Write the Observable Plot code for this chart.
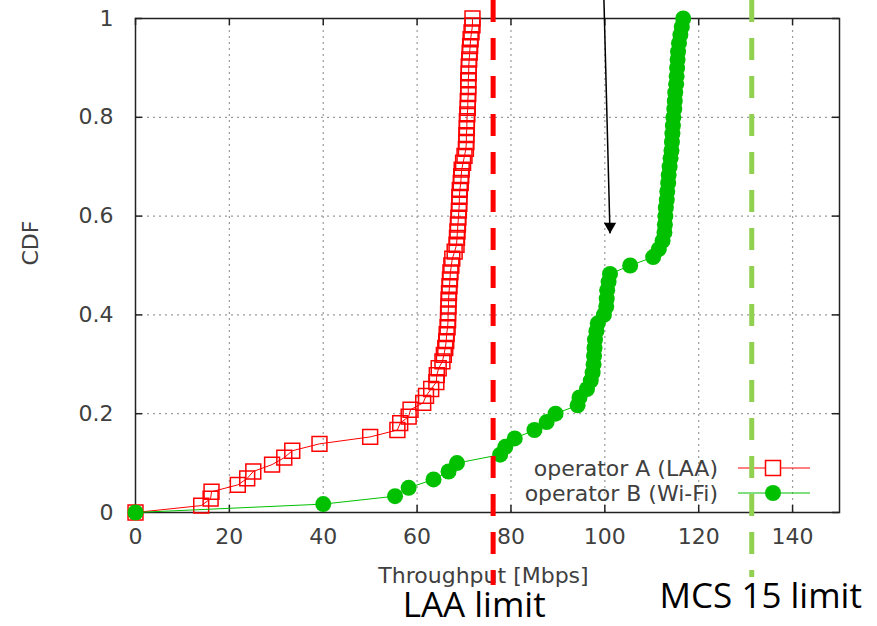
<!DOCTYPE html>
<html>
<head>
<meta charset="utf-8">
<script src="https://cdn.jsdelivr.net/npm/d3@7"></script>
<script src="https://cdn.jsdelivr.net/npm/@observablehq/plot@0.6"></script>
<style>
  html, body { margin: 0; padding: 0; background: #fff; }
  #chart { width: 877px; height: 626px; }
</style>
</head>
<body>
<div id="chart"></div>
<script>
// Throughput CDF samples for operator A (LAA): x in Mbps, CDF value
const laaThroughput = [0, 14.0, 16.0, 16.2, 21.8, 23.8, 25.1, 29.1, 31.7, 33.4, 39.2, 50.0, 55.8, 56.4, 58.2, 58.6,
  61.3, 61.9, 63.0, 64.1, 64.2, 64.6, 65.4, 65.7, 66.0, 66.2, 66.3, 66.5, 66.6, 66.6, 66.7, 66.7, 66.8, 66.9,
  67.0, 67.1, 67.3, 67.5, 68.0, 68.4, 68.5, 68.6, 68.7, 68.8, 68.9, 69.0, 69.0, 69.1, 69.3, 69.4, 69.5, 69.8,
  70.1, 70.4, 70.5, 70.5, 70.6, 70.6, 70.7, 70.8, 70.8, 70.9, 70.9, 70.9, 71.0, 71.0, 71.1, 71.2, 71.3, 71.4,
  71.6, 71.8, 71.8];
const laaCdf = [0, 0.014, 0.028, 0.042, 0.056, 0.069, 0.083, 0.097, 0.111, 0.125, 0.139, 0.153, 0.167, 0.181, 0.194, 0.208,
  0.222, 0.236, 0.250, 0.264, 0.278, 0.292, 0.306, 0.319, 0.333, 0.347, 0.361, 0.375, 0.389, 0.403, 0.417, 0.431, 0.444, 0.458,
  0.472, 0.486, 0.500, 0.514, 0.528, 0.542, 0.556, 0.569, 0.583, 0.597, 0.611, 0.625, 0.639, 0.653, 0.667, 0.681, 0.694, 0.708,
  0.722, 0.736, 0.750, 0.764, 0.778, 0.792, 0.806, 0.819, 0.833, 0.847, 0.861, 0.875, 0.889, 0.903, 0.917, 0.931, 0.944, 0.958,
  0.972, 0.986, 1.0];

// Throughput CDF samples for operator B (Wi-Fi)
const wifiThroughput = [0, 40.0, 55.3, 58.2, 63.5, 66.7, 68.5, 77.7, 78.8, 80.8, 85.0, 87.6, 89.5, 94.2, 94.6,
  96.2, 97.0, 97.4, 97.6, 97.7, 97.8, 97.9, 98.2, 98.5, 99.8, 100.3, 100.4, 100.5, 100.8, 101.1, 105.4,
  110.3, 111.5, 112.3, 112.7, 112.8, 112.9, 113.0, 113.2, 113.3, 113.5, 113.6, 113.8, 114.0, 114.2, 114.3,
  114.4, 114.5, 114.6, 114.8, 114.9, 115.0, 115.2, 115.3, 115.4, 115.5, 115.6, 115.8, 116.1, 116.4, 116.7];
const wifiCdf = [0, 0.017, 0.033, 0.050, 0.067, 0.083, 0.100, 0.117, 0.133, 0.150, 0.167, 0.183, 0.200, 0.217, 0.233,
  0.250, 0.267, 0.283, 0.300, 0.317, 0.333, 0.350, 0.367, 0.383, 0.400, 0.417, 0.433, 0.450, 0.467, 0.483, 0.500,
  0.517, 0.533, 0.550, 0.567, 0.583, 0.600, 0.617, 0.633, 0.650, 0.667, 0.683, 0.700, 0.717, 0.733, 0.750,
  0.767, 0.783, 0.800, 0.817, 0.833, 0.850, 0.867, 0.883, 0.900, 0.917, 0.933, 0.950, 0.967, 0.983, 1.0];

// Rate limits marked with dashed verticals
const limitLabels = ["LAA limit", "MCS 15 limit"];
const limitValues = [76.2, 131.3];

// Pointer annotation (from above the frame down to the Wi-Fi knee)
const pointerFrom = [99.8, 1.04];
const pointerTo = [101.1, 0.565];

const xTicks = [0, 20, 40, 60, 80, 100, 120, 140];
const yTicks = [0, 0.2, 0.4, 0.6, 0.8, 1];
const xGrid = [20, 40, 60, 80, 100, 120, 140];
const yGrid = [0.2, 0.4, 0.6, 0.8];

const seriesNames = ["operator A (LAA)", "operator B (Wi-Fi)"];

const laa = laaThroughput.map((x, i) => ({x, y: laaCdf[i]}));
const wifi = wifiThroughput.map((x, i) => ({x, y: wifiCdf[i]}));
const limits = limitLabels.map((label, i) => ({label, value: limitValues[i]}));

const W = 877, H = 626;
const mL = 135, mR = 38, mT = 18, mB = 114;
const plotW = W - mL - mR, plotH = H - mT - mB;
const RED = "#ff0000", GREEN = "#00c000";
const LAA_LINE = "#ff0000", MCS_LINE = "#92d050";
const TEXT = "#404040";
const FONT = 22;
const tick = 7;

const chart = Plot.plot({
  width: W,
  height: H,
  marginLeft: mL, marginRight: mR, marginTop: mT, marginBottom: mB,
  style: {fontFamily: "DejaVu Sans", fontSize: `${FONT}px`, color: TEXT, background: "#fff"},
  x: {domain: [0, 150], label: null},
  y: {domain: [0, 1], label: null},
  marks: [
    // dotted grid
    Plot.ruleX(xGrid, {x: d => d, stroke: "#9a9a9a", strokeWidth: 1.2, strokeDasharray: "2,4"}),
    Plot.ruleY(yGrid, {y: d => d, stroke: "#9a9a9a", strokeWidth: 1.2, strokeDasharray: "2,4"}),
    // inward ticks on all four sides
    Plot.tickX(xTicks, {x: d => d, insetTop: plotH - tick, stroke: "#222", strokeWidth: 1.5}),
    Plot.tickX(xTicks, {x: d => d, insetBottom: plotH - tick, stroke: "#222", strokeWidth: 1.5}),
    Plot.tickY(yTicks, {y: d => d, insetRight: plotW - tick, stroke: "#222", strokeWidth: 1.5}),
    Plot.tickY(yTicks, {y: d => d, insetLeft: plotW - tick, stroke: "#222", strokeWidth: 1.5}),
    Plot.frame({stroke: "#222", strokeWidth: 1.5}),
    // tick labels
    Plot.axisX(xTicks, {anchor: "bottom", tickSize: 0, tickPadding: 16, label: null, fill: TEXT}),
    Plot.axisY(yTicks, {anchor: "left", tickSize: 0, tickPadding: 22, tickFormat: d => `${d}`, label: null, fill: TEXT}),
    // axis titles
    Plot.text(["Throughput [Mbps]"], {frameAnchor: "bottom", dy: 70, dx: -4, fill: TEXT}),
    Plot.text(["CDF"], {frameAnchor: "left", dx: -105, rotate: -90, fill: TEXT}),
    // operator A (LAA)
    Plot.line(laa, {x: "x", y: "y", stroke: RED, strokeWidth: 1}),
    Plot.dot(laa, {x: "x", y: "y", symbol: "square", r: 8.4, stroke: RED, strokeWidth: 1.5, fill: "none"}),
    // operator B (Wi-Fi)
    Plot.line(wifi, {x: "x", y: "y", stroke: GREEN, strokeWidth: 1}),
    Plot.dot(wifi, {x: "x", y: "y", r: 8, fill: GREEN, stroke: "none"}),
    // rate limits
    Plot.ruleX(limits.filter(d => d.label === "LAA limit"), {x: "value", insetTop: -mT, insetBottom: -73,
      stroke: LAA_LINE, strokeWidth: 5, strokeDasharray: "22,16"}),
    Plot.ruleX(limits.filter(d => d.label !== "LAA limit"), {x: "value", insetTop: -mT, insetBottom: -65,
      stroke: MCS_LINE, strokeWidth: 5, strokeDasharray: "22,16"}),
    Plot.text(limits.filter(d => d.label === "LAA limit"), {x: "value", text: "label", frameAnchor: "bottom",
      dy: 104, dx: -19, fontSize: 35, fontFamily: "Open Sans", fill: "#000"}),
    Plot.text(limits.filter(d => d.label !== "LAA limit"), {x: "value", text: "label", frameAnchor: "bottom",
      dy: 95, dx: 9, fontSize: 35, fontFamily: "Open Sans", fill: "#000"}),
    // pointer arrow
    Plot.link([{x1: pointerFrom[0], y1: pointerFrom[1], x2: pointerTo[0], y2: pointerTo[1]}],
      {x1: "x1", y1: "y1", x2: "x2", y2: "y2", stroke: "#000", strokeWidth: 1.5}),
    Plot.dot([{x: pointerTo[0], y: pointerTo[1]}], {x: "x", y: "y", symbol: "triangle", r: 4.6, rotate: 180,
      dy: -7, fill: "#000", stroke: "none"})
  ]
});

// Key in the lower-right corner of the frame
const svg = d3.select(chart);
const right = W - mR, bottom = H - mB;
const key = svg.append("g").attr("font-family", "DejaVu Sans").attr("font-size", FONT).attr("fill", TEXT);
const rows = [
  {name: seriesNames[0], color: RED, y: bottom - 44, kind: "square"},
  {name: seriesNames[1], color: GREEN, y: bottom - 19, kind: "dot"}
];
rows.forEach(r => {
  key.append("text").attr("x", right - 121).attr("y", r.y).attr("text-anchor", "end")
    .attr("dominant-baseline", "central").text(r.name);
  key.append("line").attr("x1", right - 101).attr("x2", right - 29).attr("y1", r.y).attr("y2", r.y)
    .attr("stroke", r.color).attr("stroke-width", 1);
  if (r.kind === "square") {
    key.append("rect").attr("x", right - 66 - 7.5).attr("y", r.y - 7.5).attr("width", 15).attr("height", 15)
      .attr("fill", "#fff").attr("stroke", r.color).attr("stroke-width", 1.5);
  } else {
    key.append("circle").attr("cx", right - 66).attr("cy", r.y).attr("r", 8).attr("fill", r.color);
  }
});
// keep the MCS 15 limit line above the key, as it crosses it
const mcsRule = svg.selectAll("g[aria-label='rule']").filter((d, i, n) => i === n.length - 1);
if (!mcsRule.empty()) chart.appendChild(mcsRule.node());

document.getElementById("chart").appendChild(chart);
</script>
</body>
</html>
